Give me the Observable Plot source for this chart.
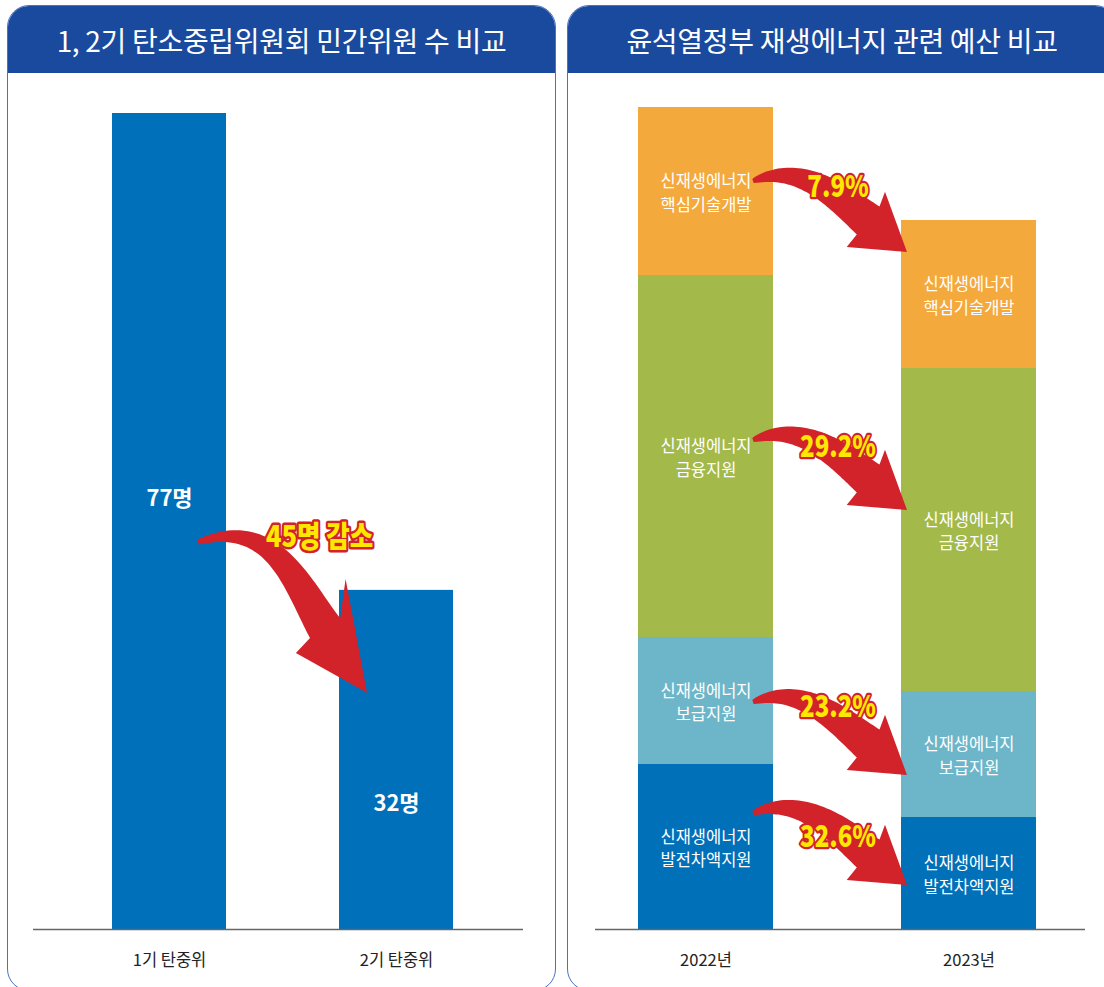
<!DOCTYPE html>
<html>
<head>
<meta charset="utf-8">
<script src="https://cdn.jsdelivr.net/npm/d3@7"></script>
<script src="https://cdn.jsdelivr.net/npm/@observablehq/plot@0.6"></script>
<style>
  body { margin: 0; background: #fff; }
  #root { position: relative; width: 1104px; height: 987px; overflow: hidden; background: #fff;
          font-family: "Noto Sans CJK KR", "Noto Sans", sans-serif; }
  .panel { position: absolute; top: 5px; height: 986px; box-sizing: border-box;
           border: 1.5px solid #4a72c0; border-radius: 22px; overflow: hidden; background: #fff; }
  .hdr { height: 67px; background: #1a4a9e; color: #fff; font-size: 28px; display: flex;
         align-items: center; justify-content: center; box-sizing: border-box; letter-spacing: -0.3px; }
  .chart { position: absolute; top: 74px; }
</style>
</head>
<body>
<div id="root">
  <div class="panel" style="left:7px;width:549px"><div class="hdr" id="t1"></div></div>
  <div class="panel" style="left:567px;width:550px"><div class="hdr" id="t2"></div></div>
  <div class="chart" id="c1" style="left:8px"></div>
  <div class="chart" id="c2" style="left:568px"></div>
</div>
<script>
// ---------- data ----------
const leftTitle = "1, 2기 탄소중립위원회 민간위원 수 비교";
const leftCats = ["1기 탄중위", "2기 탄중위"];
const leftValues = [77, 32];
const leftUnit = "명";

const rightTitle = "윤석열정부 재생에너지 관련 예산 비교";
const years = ["2022년", "2023년"];
const budgetCats = ["신재생에너지\n발전차액지원", "신재생에너지\n보급지원", "신재생에너지\n금융지원", "신재생에너지\n핵심기술개발"];
const budget2022 = [165, 127, 362, 168];   // relative bar heights
const budget2023 = [112, 126, 323, 148];
const budgetColors = ["#0070B9", "#6DB6C9", "#A3B94A", "#F4A93C"];
const cutLabels = ["32.6%", "23.2%", "29.2%", "7.9%"];
// annotation anchors (value units)
const arrowFrom = [116, 227, 489, 748];
const arrowTo = [44, 154, 419, 677];
const arrowLabelAt = [92, 222, 482, 742];
const leftArrowFrom = 36.5, leftArrowTo = 22.3, leftArrowLabelAt = 37;

document.getElementById("t1").textContent = leftTitle;
document.getElementById("t2").textContent = rightTitle;

const RED = "#D2232A", YELLOW = "#FFE800";
const FONT = "'Noto Sans CJK KR', 'Noto Sans', sans-serif";

// ---------- fat curved arrow ----------
function arrowPath(P0, T, p) {
  const ang = p.headAngle * Math.PI / 180;
  const d = [Math.cos(ang), Math.sin(ang)];
  const n = [-d[1], d[0]];
  const B = [T[0] - p.headLen * d[0], T[1] - p.headLen * d[1]];
  const sl = Math.hypot(p.startDir[0], p.startDir[1]);
  const sd = [p.startDir[0] / sl, p.startDir[1] / sl];
  const P1 = [P0[0] + p.a * sd[0], P0[1] + p.a * sd[1]];
  const P2 = [B[0] - p.b * d[0], B[1] - p.b * d[1]];
  const outer = [], inner = [];
  const N = 48;
  for (let i = 0; i <= N; i++) {
    const t = i / N, u = 1 - t;
    const px = u*u*u*P0[0] + 3*u*u*t*P1[0] + 3*u*t*t*P2[0] + t*t*t*B[0];
    const py = u*u*u*P0[1] + 3*u*u*t*P1[1] + 3*u*t*t*P2[1] + t*t*t*B[1];
    const tx = 3*u*u*(P1[0]-P0[0]) + 6*u*t*(P2[0]-P1[0]) + 3*t*t*(B[0]-P2[0]);
    const ty = 3*u*u*(P1[1]-P0[1]) + 6*u*t*(P2[1]-P1[1]) + 3*t*t*(B[1]-P2[1]);
    const l = Math.hypot(tx, ty) || 1;
    const nx = -ty / l, ny = tx / l;
    const w = p.w0 + (p.w1 - p.w0) * Math.pow(t, p.k);
    outer.push([px - nx * w / 2, py - ny * w / 2]);
    inner.push([px + nx * w / 2, py + ny * w / 2]);
  }
  const wingOut = [B[0] + d[0]*p.outAlong + n[0]*p.outPerp, B[1] + d[1]*p.outAlong + n[1]*p.outPerp];
  const wingIn = [B[0] + d[0]*p.inAlong + n[0]*p.inPerp, B[1] + d[1]*p.inAlong + n[1]*p.inPerp];
  const pts = [...outer, wingOut, T, wingIn, ...inner.reverse()];
  return "M" + pts.map(q => q[0].toFixed(1) + "," + q[1].toFixed(1)).join("L") + "Z";
}

function arrowMark(specs, shape) {
  return (index, scales) => {
    const x = scales.x, y = scales.y;
    const bw = typeof x.bandwidth === "function" ? x.bandwidth() : 0;
    const g = d3.create("svg:g");
    for (const s of specs) {
      const P0 = [x(s.from) + bw + shape.dxFrom, y(s.y0)];
      const T = [x(s.to) + shape.dxTo, y(s.y1)];
      g.append("path").attr("d", arrowPath(P0, T, shape)).attr("fill", RED);
    }
    return g.node();
  };
}

function condense(svg, factor) {
  svg.querySelectorAll(`g[fill="${YELLOW}"] text`).forEach(t => {
    const tr = t.getAttribute("transform");
    if (tr) t.setAttribute("transform", tr + ` scale(${factor},1)`);
    else {
      const x = +t.getAttribute("x") || 0, y = +t.getAttribute("y") || 0;
      t.setAttribute("transform", `translate(${x},${y}) scale(${factor},1) translate(${-x},${-y})`);
    }
  });
}

const tickText = (cats) => Plot.text(cats, {x: d => d, y: 0, dy: 31, fill: "#222", fontSize: 16.5});

// ---------- left chart ----------
const leftRows = leftCats.map((c, i) => ({cat: c, value: leftValues[i], label: leftValues[i] + leftUnit}));
const leftArrow = [{from: leftCats[0], to: leftCats[1], y0: leftArrowFrom, y1: leftArrowTo,
  labelAt: leftArrowLabelAt, label: `${leftValues[0] - leftValues[1]}${leftUnit} 감소`}];

const left = Plot.plot({
  width: 547, height: 913,
  marginLeft: 25, marginRight: 32, marginTop: 39, marginBottom: 58,
  style: {fontFamily: FONT, fontSize: "16px", background: "transparent", color: "#222", overflow: "visible"},
  x: {domain: leftCats, paddingInner: 0.5, paddingOuter: 0.3246, align: 0.53, axis: null},
  y: {domain: [0, 77], axis: null},
  marks: [
    Plot.barY(leftRows, {x: "cat", y: "value", fill: "#0070BA"}),
    Plot.ruleY([0], {stroke: "#666", strokeWidth: 1.5}),
    tickText(leftCats),
    Plot.text(leftRows.slice(0, 1), {x: "cat", y: d => d.value / 2, text: "label", dy: -23, fill: "#fff", fontSize: 22, fontWeight: 700}),
    Plot.text(leftRows.slice(1, 2), {x: "cat", y: d => d.value / 2, text: "label", dy: 44, fill: "#fff", fontSize: 22, fontWeight: 700}),
    arrowMark(leftArrow, {dxFrom: -28, dxTo: 28, headAngle: 57, headLen: 77, a: 80, b: 50, startDir: [1, -0.35],
      w0: 5, w1: 36, k: 0.8, outAlong: -30, outPerp: -44, inAlong: 5, inPerp: 38}),
    Plot.text(leftArrow, {x: "from", y: "labelAt", text: "label", dx: 150, fill: YELLOW, stroke: RED, strokeWidth: 5,
      strokeLinejoin: "round", paintOrder: "stroke", fontSize: 30, fontWeight: 900})
  ]
});
condense(left, 0.85);
document.getElementById("c1").appendChild(left);

// ---------- right chart ----------
const rightRows = [];
[budget2022, budget2023].forEach((vals, yi) => {
  let acc = 0;
  vals.forEach((v, i) => {
    rightRows.push({year: years[yi], cat: budgetCats[i], y1: acc, y2: acc + v, mid: acc + v / 2});
    acc += v;
  });
});
const rightArrows = cutLabels.map((l, i) => ({from: years[0], to: years[1], y0: arrowFrom[i], y1: arrowTo[i],
  labelAt: arrowLabelAt[i], label: l}));

const right = Plot.plot({
  width: 536, height: 913,
  marginLeft: 27, marginRight: 19, marginTop: 33, marginBottom: 58,
  style: {fontFamily: FONT, fontSize: "16px", background: "transparent", color: "#222", overflow: "visible"},
  x: {domain: years, paddingInner: 0.487, paddingOuter: 0.175, align: 0.467, axis: null},
  y: {domain: [0, 822], axis: null},
  color: {domain: budgetCats, range: budgetColors},
  marks: [
    Plot.barY(rightRows, {x: "year", y1: "y1", y2: "y2", fill: "cat"}),
    Plot.ruleY([0], {stroke: "#666", strokeWidth: 1.5}),
    tickText(years),
    Plot.text(rightRows, {x: "year", y: "mid", text: "cat", fill: "#fff", fontSize: 16.5, lineHeight: 1.42}),
    arrowMark(rightArrows, {dxFrom: -20, dxTo: 6, headAngle: 39, headLen: 50, a: 50, b: 40, startDir: [1, -0.4],
      w0: 4, w1: 36, k: 0.7, outAlong: -5, outPerp: -33, inAlong: 0, inPerp: 34}),
    Plot.text(rightArrows, {x: "from", y: "labelAt", text: "label", dx: 132, fill: YELLOW, stroke: RED, strokeWidth: 4.5,
      strokeLinejoin: "round", paintOrder: "stroke", fontSize: 30, fontWeight: 900})
  ]
});
condense(right, 0.8);
document.getElementById("c2").appendChild(right);
</script>
</body>
</html>
